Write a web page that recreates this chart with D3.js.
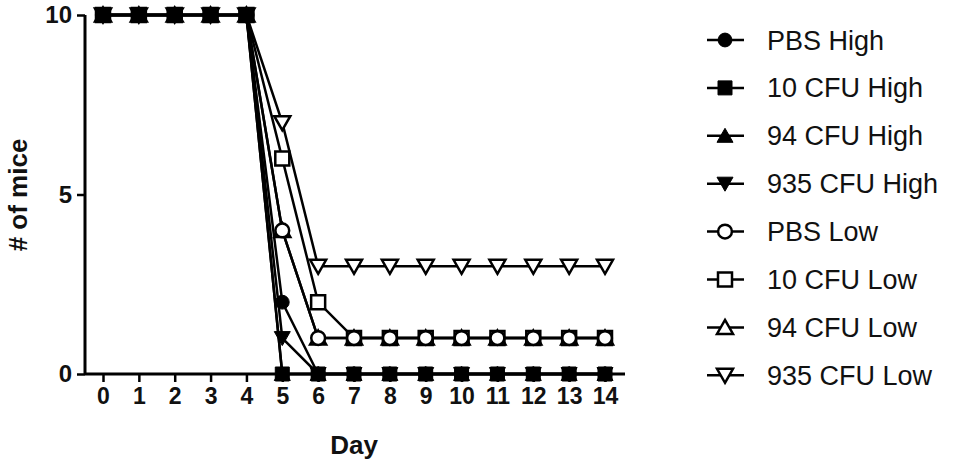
<!DOCTYPE html>
<html><head><meta charset="utf-8">
<script src="https://cdn.jsdelivr.net/npm/d3@7"></script>
<style>body{margin:0;background:#fff}svg{display:block}text{font-family:"Liberation Sans",Arial,sans-serif}</style>
</head><body><svg id="c" width="954" height="470"></svg>
<script>
const days = [0,1,2,3,4,5,6,7,8,9,10,11,12,13,14];
const seriesNames = ["PBS High","10 CFU High","94 CFU High","935 CFU High","PBS Low","10 CFU Low","94 CFU Low","935 CFU Low"];
const pbsHigh    = [10,10,10,10,10,2,0,0,0,0,0,0,0,0,0];
const cfu10High  = [10,10,10,10,10,0,0,0,0,0,0,0,0,0,0];
const cfu94High  = [10,10,10,10,10,0,0,0,0,0,0,0,0,0,0];
const cfu935High = [10,10,10,10,10,1,0,0,0,0,0,0,0,0,0];
const pbsLow     = [10,10,10,10,10,4,1,1,1,1,1,1,1,1,1];
const cfu10Low   = [10,10,10,10,10,6,2,1,1,1,1,1,1,1,1];
const cfu94Low   = [10,10,10,10,10,4,1,1,1,1,1,1,1,1,1];
const cfu935Low  = [10,10,10,10,10,7,3,3,3,3,3,3,3,3,3];
const yTicks = [0,5,10];

const values = [pbsHigh,cfu10High,cfu94High,cfu935High,pbsLow,cfu10Low,cfu94Low,cfu935Low];
const shapes = ["circle","square","up","down","circle","square","up","down"];
const filled = [true,true,true,true,false,false,false,false];

const svg = d3.select("#c");
const x = d3.scaleLinear().domain([0,14]).range([103,605]);
const y = d3.scaleLinear().domain([0,10]).range([374,15]);

function markerPath(shape){
  if(shape==="circle") return d3.symbol(d3.symbolCircle, 150)();
  if(shape==="square") return "M-7,-7H7V7H-7Z";
  if(shape==="up") return "M0,-7.5L8,6.5H-8Z";
  return "M0,7.5L8,-6.5H-8Z";
}

// axes
const xAxis = d3.axisBottom(x).tickValues(days).tickSize(8).tickSizeOuter(0).tickPadding(6);
const gx = svg.append("g").attr("transform","translate(0,374)").call(xAxis);
gx.select(".domain").attr("d","M85,0H625").attr("stroke","#000").attr("stroke-width",3);
gx.selectAll(".tick line").attr("stroke","#000").attr("stroke-width",2.5);
gx.selectAll(".tick text").attr("font-size",23).attr("font-weight","bold").attr("fill","#111");

const yAxis = d3.axisLeft(y).tickValues(yTicks).tickSize(8).tickSizeOuter(0).tickPadding(5);
const gy = svg.append("g").attr("transform","translate(85,0)").call(yAxis);
gy.select(".domain").attr("d","M0,15V375").attr("stroke","#000").attr("stroke-width",3);
gy.selectAll(".tick line").attr("stroke","#000").attr("stroke-width",2.5);
gy.selectAll(".tick text").attr("font-size",24).attr("font-weight","bold").attr("fill","#111");

svg.append("text").attr("x",354).attr("y",454).attr("text-anchor","middle")
  .attr("font-size",26).attr("font-weight","bold").attr("fill","#111").text("Day");
svg.append("text").attr("transform","translate(27,195) rotate(-90)").attr("text-anchor","middle")
  .attr("font-size",26).attr("font-weight","bold").attr("fill","#111").text("# of mice");

// lines
const line = d3.line().x((d,i)=>x(days[i])).y(d=>y(d));
const order = [7,5,6,4,3,2,1,0];
order.forEach(k=>{
  svg.append("path").attr("d",line(values[k])).attr("fill","none")
    .attr("stroke","#000").attr("stroke-width",2.5);
});
order.forEach(k=>{
  svg.append("g").selectAll("path").data(values[k]).join("path")
    .attr("transform",(d,i)=>`translate(${x(days[i])},${y(d)})`)
    .attr("d",markerPath(shapes[k]))
    .attr("fill",filled[k]?"#000":"#fff")
    .attr("stroke","#000").attr("stroke-width",filled[k]?1:2.5);
});

// legend
const leg = svg.append("g");
seriesNames.forEach((name,i)=>{
  const cy = 40 + i*47.9;
  leg.append("line").attr("x1",707).attr("x2",744).attr("y1",cy).attr("y2",cy)
    .attr("stroke","#000").attr("stroke-width",2.5);
  leg.append("path").attr("transform",`translate(725,${cy})`).attr("d",markerPath(shapes[i]))
    .attr("fill",filled[i]?"#000":"#fff").attr("stroke","#000").attr("stroke-width",filled[i]?1:2.5);
  leg.append("text").attr("x",767).attr("y",cy+9.5).attr("font-size",27).attr("fill","#111").text(name);
});
</script></body></html>
